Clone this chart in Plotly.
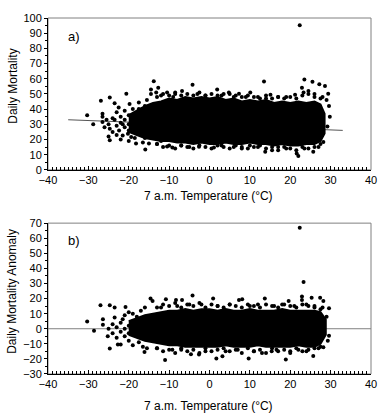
import plotly.graph_objects as go

# ---------------- data ----------------
# dense core of panel a): temperature bins with lower/upper edge of solid cloud
core_t_a = [-20, -18, -16, -14, -12, -10, -8, -6, -4, -2, 0, 2, 4, 6, 8, 10, 12, 14, 16,
            18, 20, 22, 24, 26, 27.5, 28.5]
core_hi_a = [36, 39, 42, 44, 45, 47, 46, 48, 47, 48, 47, 48, 46, 47, 45, 46, 45, 46, 44,
             45, 44, 45, 44, 45, 43, 37]
core_lo_a = [25, 23, 21, 20, 19, 19, 18, 18, 17, 18, 17, 17, 18, 17, 17, 18, 17, 17, 16,
             17, 16, 16, 17, 17, 19, 24]

# individually visible points of panel a)
pts_t_a = [-30.3, -28.8, -26.9, -26.5, -26.5, -26.5, -24.7, -24.7, -24.7, -23.5, -23.5, -22.4,
           -21.5, -20.6, -20.2, -19.8, -19.4, -18.2, -17.5, -15, -15.9, -13.8, -14.5, -13.2,
           -12.7, -14.5, -25, -24, -23, -23, -22, -22, -21, -21, -21, -20, -20, -20, -19, -19,
           -19, -24, -25.5, -22.5, -21.5, -18.5, -18, -18, -17.5, -17, -16.5, -16, -16, -15.5,
           -16.5, -22, -23, -20, -18.5, -25, -26,
           -12, -10.5, -8.5, -6.8, -4.2, -3, -1, 1.9, 3, 4.8, 7.3, 10.1, 12, 13.5, 15.1, 17,
           19, 21.2, 22.9, 23.3, 23.5, 25.5, 27.2, 28.6, 29.4, 28, 26, 29, 29.6, 29.2, 29.8,
           22.35, 24.5, -9, 6, 9, 14,
           -10.5, -9.2, -7, -5, -2.6, 1.1, 3, 6, 8, 10, 12, 13.8, 15.5, 17, 19, 21.6, 22,
           23.5, 25.7, 27, 28.2, -13, -12]
pts_v_a = [36, 30, 45.5, 37, 35, 31.6, 47.6, 19.5, 27, 43.8, 33, 26,
           22.7, 50.2, 23.8, 43.3, 21.7, 17.3, 44.4, 17.3, 13.4, 58.4, 53, 51,
           54, 50, 30, 34, 29, 38, 31, 35, 28, 33, 39, 30, 36, 26, 33, 40,
           28, 25, 33, 41, 30, 37, 25, 31, 40, 28, 35, 21, 42, 46,
           18, 20, 23, 19, 21, 22, 28,
           49, 51, 50, 52, 56, 50, 49, 53, 49, 51, 50.2, 51, 48, 58.2, 49.4, 48,
           48, 49.4, 54, 51, 59.5, 58, 56.3, 55.2, 50.2, 48, 50, 46, 42, 28.6, 35,
           95.3, 52, 48, 48, 48, 47,
           15.4, 14.7, 16, 15, 15.2, 14.7, 16, 15, 14, 16, 15, 11.9, 13, 15, 14, 10.8, 9.1,
           14, 11.9, 15, 18.4, 17, 19]

# ragged edge points along the cloud of panel a)
edge_t = [-13, -11.5, -10, -8.5, -7, -5.5, -4, -2.5, -1, 0.5, 2, 3.5, 5, 6.5, 8, 9.5, 11,
          12.5, 14, 15.5, 17, 18.5, 20, 21.5, 23, 24.5, 26, 27.5]
edge_hi_a = [48, 50, 49, 51, 49, 50, 49, 51, 49, 50, 49, 50, 50, 49, 48, 49, 48, 47, 49,
             47, 48, 47, 48, 47, 49, 50, 48, 47]
edge_lo_a = [17, 15, 16, 14, 16, 15, 14, 16, 15, 14, 16, 15, 14, 16, 15, 14, 15, 16, 14,
             15, 13, 15, 14, 13, 15, 14, 15, 17]

# regression line of panel a)
trend_t_a = [-35, 33]
trend_v_a = [33, 26]

# dense core of panel b)
core_t_b = [-20, -18, -16, -14, -12, -10, -8, -6, -4, -2, 0, 2, 4, 6, 8, 10, 12, 14, 16,
            18, 20, 22, 24, 26, 27.5, 28.8]
core_hi_b = [5, 7, 9, 10, 11, 12, 12, 13, 12, 13, 13, 12, 13, 12, 12, 13, 12, 12, 12,
             13, 12, 12, 12, 12, 11, 6]
core_lo_b = [-4, -6, -8, -9, -10, -11, -11, -12, -12, -12, -12, -12, -11, -12, -12, -12,
             -11, -12, -12, -12, -12, -11, -12, -12, -10, -4]

# individually visible points of panel b)
pts_t_b = [-30.3, -28.6, -27, -24.7, -23.5, -20.8, -24.7, -26.4, -26.4, -25.2, -22.7, -22,
           -23.5, -21.5,
           -25, -24, -24, -23, -23, -22, -22, -21, -21, -21, -20, -20, -20, -19, -19, -19,
           -18, -18, -18, -17.5, -17, -16.5, -16, -15.5, -20, -19,
           -16.1, -14.6, -14.1, -11, -10.8, -9.2, -8.3, -6.8, -4.6, -4.2,
           22.35, 23.3, 0.9, 7.3, 8.1, 13.7, 19.6, 22.9, 22.9, 25.3, 27.4, 28.2, 29.6, 29.6,
           -2.6, 1.7, 3.2, 9.7, 18.9, 25.7, 28.2, 15.4, 16.6,
           -2, 2, 5, 10, 12, 16, 18, 21, 24, 26, 28, -12, -8, -5, -1, 4, 7, 11, 13, 20, 22,
           24, 27, -13, -7, 29, 29.3]
pts_v_b = [4.8, -1.3, 15.5, 15.5, 14, 14.4, -13.1, 6.3, 2.7, -5, -10.5, -10.5,
           7.4, 6.3,
           0, 3, -3, 1, -6, 4, -2, 0, -5, 9, 2, -3, -8, 5, -1, 10,
           -4, 2, 8, -9, 12, -12, 14, -13, 11, -11,
           -15.4, 20.1, 18.4, -20.8, 19.5, -14, 19, 19, -16.9, 22,
           66.9, 31, 20.1, 19, 19.5, 20.1, 18.4, 21.4, 19, 20.5, 20.5, 18.4, 13.6, -4.6,
           -17.1, -19.7, -18.2, -19.7, -20.4, -18, -12.2, -15, -14,
           16, 15, 16, 15, 16, 15, 16, 15, 16, 15, 14, 14, 15, 16, -15, -15, -14, -15, -16,
           -15, -14, -15, -13, -13, -14, 8, -8]

# ragged edge points along the cloud of panel b)
edge_hi_b = [14, 16, 15, 17, 14, 16, 15, 17, 14, 16, 15, 14, 16, 15, 14, 16, 15, 14, 16,
             15, 14, 16, 15, 14, 16, 15, 14, 13]
edge_lo_b = [-13, -15, -14, -16, -13, -15, -14, -16, -13, -15, -14, -13, -15, -14, -16, -13,
             -15, -14, -16, -13, -15, -14, -16, -13, -15, -14, -13, -12]

# zero line of panel b)
zero_t_b = [-40, 40]
zero_v_b = [0, 0]

x_ticks = [-40, -30, -20, -10, 0, 10, 20, 30, 40]

# ---------------- figure ----------------
FONT = "Liberation Sans, Arial, sans-serif"
fig = go.Figure()


def core_polygon(t, hi, lo):
    return t + t[::-1], hi + lo[::-1]


px_a, py_a = core_polygon(core_t_a, core_hi_a, core_lo_a)
px_b, py_b = core_polygon(core_t_b, core_hi_b, core_lo_b)

dot = dict(color="black", size=4)

fig.add_trace(go.Scatter(x=trend_t_a, y=trend_v_a, mode="lines",
                         line=dict(color="#555555", width=1), xaxis="x", yaxis="y",
                         hoverinfo="skip"))
fig.add_trace(go.Scatter(x=px_a, y=py_a, mode="lines", fill="toself", fillcolor="black",
                         line=dict(color="black", width=2), xaxis="x", yaxis="y"))
fig.add_trace(go.Scatter(x=pts_t_a, y=pts_v_a, mode="markers", marker=dot,
                         xaxis="x", yaxis="y"))
fig.add_trace(go.Scatter(x=edge_t + edge_t, y=edge_hi_a + edge_lo_a, mode="markers",
                         marker=dot, xaxis="x", yaxis="y"))

fig.add_trace(go.Scatter(x=zero_t_b, y=zero_v_b, mode="lines",
                         line=dict(color="#808080", width=1), xaxis="x2", yaxis="y2",
                         hoverinfo="skip"))
fig.add_trace(go.Scatter(x=px_b, y=py_b, mode="lines", fill="toself", fillcolor="black",
                         line=dict(color="black", width=2), xaxis="x2", yaxis="y2"))
fig.add_trace(go.Scatter(x=pts_t_b, y=pts_v_b, mode="markers", marker=dot,
                         xaxis="x2", yaxis="y2"))
fig.add_trace(go.Scatter(x=edge_t + edge_t, y=edge_hi_b + edge_lo_b, mode="markers",
                         marker=dot, xaxis="x2", yaxis="y2"))

xcommon = dict(range=[-40, 40], tickvals=x_ticks, ticks="inside", ticklen=4,
               tickcolor="black", showline=True, linecolor="black", linewidth=1,
               showgrid=False, zeroline=False,
               minor=dict(dtick=1, ticks="inside", ticklen=3, tickcolor="black"),
               tickfont=dict(family=FONT, size=11, color="black"))
ycommon = dict(dtick=10, ticks="outside", ticklen=3, tickcolor="black",
               showline=True, linecolor="black", linewidth=1, showgrid=False,
               zeroline=False, minor=dict(dtick=5, ticks="outside", ticklen=2,
                                          tickcolor="black"),
               tickfont=dict(family=FONT, size=11, color="black"))

fig.update_layout(
    width=389, height=417,
    margin=dict(l=48, r=16, t=13, b=43),
    paper_bgcolor="white", plot_bgcolor="white",
    showlegend=False,
    xaxis=dict(**xcommon, anchor="y", domain=[0, 1]),
    yaxis=dict(**ycommon, range=[0, 100], domain=[0.5734, 1], anchor="x"),
    xaxis2=dict(**xcommon, anchor="y2", domain=[0, 1]),
    yaxis2=dict(**ycommon, range=[-30, 70], domain=[0, 0.4238], anchor="x2"),
    font=dict(family=FONT, size=11, color="black"),
)

for xr, yr in (("x", "y"), ("x2", "y2")):
    fig.add_shape(type="rect", xref=f"{xr} domain", yref=f"{yr} domain",
                  x0=0, x1=1, y0=0, y1=1, line=dict(color="#808080", width=1),
                  layer="below")

ann_font = dict(family=FONT, size=12, color="black")
fig.add_annotation(text="Daily Mortality", xref="paper", yref="paper", x=-0.111,
                   y=0.8075, textangle=-90, showarrow=False, font=ann_font,
                   xanchor="center", yanchor="middle")
fig.add_annotation(text="Daily Mortality Anomaly", xref="paper", yref="paper", x=-0.111,
                   y=0.2313, textangle=-90, showarrow=False, font=ann_font,
                   xanchor="center", yanchor="middle")
fig.add_annotation(text="7 a.m. Temperature (°C)", xref="paper", yref="paper", x=0.498,
                   y=0.4986, showarrow=False, font=ann_font, xanchor="center",
                   yanchor="middle")
fig.add_annotation(text="7 a.m. Temperature (°C)", xref="paper", yref="paper", x=0.498,
                   y=-0.0886, showarrow=False, font=ann_font, xanchor="center",
                   yanchor="middle")
fig.add_annotation(text="a)", xref="x", yref="y", x=-35.5, y=87.5, showarrow=False,
                   font=dict(family=FONT, size=13, color="black"), xanchor="left",
                   yanchor="middle")
fig.add_annotation(text="b)", xref="x2", yref="y2", x=-35.5, y=58.2, showarrow=False,
                   font=dict(family=FONT, size=13, color="black"), xanchor="left",
                   yanchor="middle")

fig.write_html(
    "out.html",
    config={"displayModeBar": False},
    post_script="document.body.style.margin='0';document.body.style.overflow='hidden';",
)
